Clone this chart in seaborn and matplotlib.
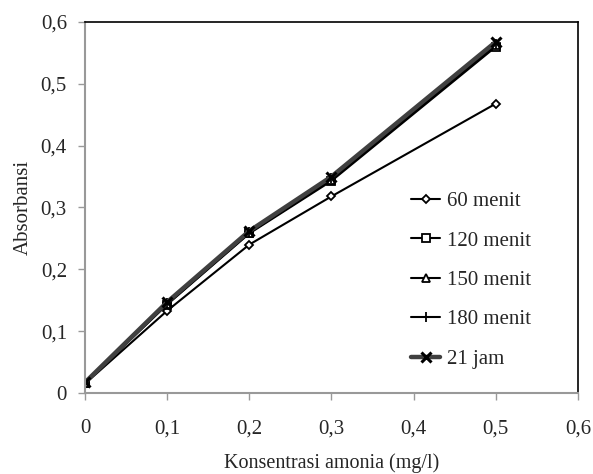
import matplotlib
matplotlib.use("Agg")
import matplotlib.pyplot as plt
import numpy as np
import pandas as pd
import seaborn as sns
from matplotlib.ticker import FuncFormatter

# Data
konsentrasi = [0, 0.1, 0.2, 0.3, 0.5]
menit_60 = [0.015, 0.133, 0.240, 0.318, 0.468]
menit_120 = [0.016, 0.143, 0.258, 0.343, 0.560]
menit_150 = [0.016, 0.144, 0.259, 0.345, 0.562]
menit_180 = [0.017, 0.146, 0.260, 0.348, 0.565]
jam_21 = [0.017, 0.147, 0.262, 0.350, 0.568]

series_names = ["60 menit", "120 menit", "150 menit", "180 menit", "21 jam"]
series_values = [menit_60, menit_120, menit_150, menit_180, jam_21]

df = pd.DataFrame({
    "konsentrasi": konsentrasi * len(series_names),
    "absorbansi": sum(series_values, []),
    "waktu": np.repeat(series_names, len(konsentrasi)),
})

sns.set_style("white")
plt.rcParams["font.family"] = ["Liberation Serif", "DejaVu Serif"]

fig = plt.figure(figsize=(5.93, 4.74), dpi=100)
ax = fig.add_axes([0.1433, 0.1709, 0.8314, 0.7827])

styles = {
    "60 menit": dict(marker="D", markersize=4, color="black", lw=1.5, mfc="white", mec="black"),
    "120 menit": dict(marker="s", markersize=5.5, color="black", lw=1.5, mfc="white", mec="black"),
    "150 menit": dict(marker="^", markersize=5.5, color="black", lw=1.5, mfc="white", mec="black"),
    "180 menit": dict(marker="+", markersize=7, color="black", lw=1.5, mec="black"),
    "21 jam": dict(marker="x", markersize=6.5, color="#404040", lw=3.2, mec="black", mew=2.2),
}

for name in series_names:
    sub = df[df["waktu"] == name]
    st = styles[name]
    sns.lineplot(data=sub, x="konsentrasi", y="absorbansi", ax=ax, label=name,
                 color=st["color"], linewidth=st["lw"], marker=st["marker"],
                 markersize=st["markersize"], markeredgecolor=st["mec"],
                 markerfacecolor=st.get("mfc", st["mec"]),
                 markeredgewidth=st.get("mew", 1.3))

ax.set_xlim(0, 0.6)
ax.set_ylim(0, 0.6)
ticks = [0, 0.1, 0.2, 0.3, 0.4, 0.5, 0.6]
ax.set_xticks(ticks)
ax.set_yticks(ticks)
fmt = FuncFormatter(lambda v, p: "0" if abs(v) < 1e-9 else f"{v:.1f}".replace(".", ","))
ax.xaxis.set_major_formatter(fmt)
ax.yaxis.set_major_formatter(fmt)
ax.tick_params(axis="both", labelsize=15, direction="out", length=5, width=1,
               color="#999999", bottom=True, left=True, pad=8)
ax.tick_params(axis="x", pad=14)

for side in ["top", "right"]:
    ax.spines[side].set_color("black")
    ax.spines[side].set_linewidth(1.2)
for side in ["left", "bottom"]:
    ax.spines[side].set_color("#999999")
    ax.spines[side].set_linewidth(1.5)

ax.set_xlabel("Konsentrasi amonia (mg/l)", fontsize=14.5, labelpad=11)
ax.set_ylabel("Absorbansi", fontsize=15, labelpad=6)

ax.legend(loc="upper left", bbox_to_anchor=(0.645, 0.565), frameon=False,
          fontsize=15, labelspacing=0.95, handlelength=1.4, handletextpad=0.3,
          borderaxespad=0)

fig.savefig("out.png", dpi=100)
